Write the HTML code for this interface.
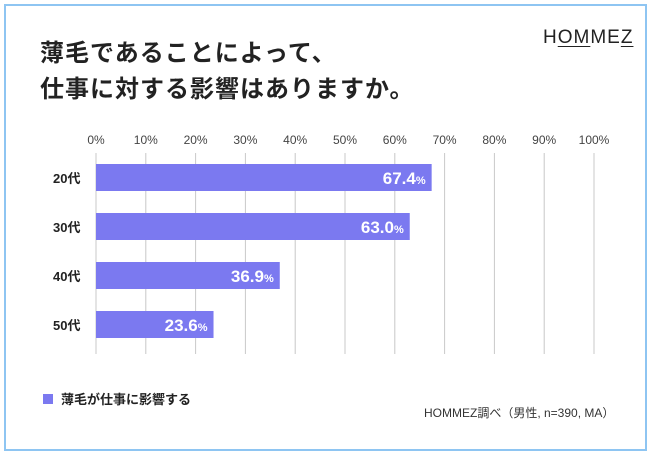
<!DOCTYPE html>
<html><head><meta charset="utf-8">
<style>
body{margin:0;width:650px;height:454px;background:#fff;font-family:"Liberation Sans","Noto Sans CJK JP",sans-serif;overflow:hidden;position:relative}
.frame{position:absolute;left:4px;top:4px;width:639px;height:443px;border:2px solid #8ec5f2}
.title{position:absolute;left:40px;top:36px;font-size:24px;font-weight:bold;color:#222;line-height:36px;letter-spacing:1px}
.logo{position:absolute;left:543px;top:27px;font-size:19px;color:#222;letter-spacing:1px}
.logo u{text-decoration:underline;text-underline-offset:3px}
</style></head><body>
<div class="frame"></div>
<div class="title">薄毛であることによって、<br>仕事に対する影響はありますか。</div>
<div class="logo">H<u>OM</u>ME<u>Z</u></div>
<svg id="chart" width="650" height="454" style="position:absolute;left:0;top:0"></svg>
<script>
const categories=["20代","30代","40代","50代"];
const values=[67.4,63.0,36.9,23.6];
const ticks=[0,10,20,30,40,50,60,70,80,90,100];
const NS="http://www.w3.org/2000/svg";
const svg=document.getElementById('chart');
const x=v=>96+v*4.98;
const y=i=>164+i*49;
function mk(t,a,txt){const e=document.createElementNS(NS,t);for(const k in a)e.setAttribute(k,a[k]);if(txt!=null)e.textContent=txt;svg.appendChild(e);return e;}
ticks.forEach(t=>{
 const l=mk('line',{x1:x(t),x2:x(t),y1:153,y2:354,stroke:'#c8c8c8','stroke-width':1});
 
 
 const tx=mk('text',{x:x(t),y:144,'text-anchor':'middle','font-size':12,fill:'#444'},t+'%');
 
 
});
categories.forEach((c,i)=>{
 const lb=mk('text',{x:53,y:y(i)+19,'font-size':13,'font-weight':'bold',fill:'#222'},c);
 
 
 const r=mk('rect',{x:x(0),y:y(i),width:x(values[i])-x(0),height:27,fill:'#7b79f0'});
 
 
 const v=mk('text',{x:x(values[i])-6,y:y(i)+20,'text-anchor':'end',fill:'#fff','font-weight':'bold','font-size':17});
 v.innerHTML=values[i].toFixed(1)+'<tspan font-size="11">%</tspan>';
 
 
});
const sq=mk('rect',{x:43,y:394,width:10,height:10,fill:'#7b79f0'});


const lt=mk('text',{x:61,y:404,'font-size':13,'font-weight':'bold',fill:'#222'},'薄毛が仕事に影響する');


const src=mk('text',{x:424,y:417,'font-size':12,fill:'#333'},'HOMMEZ調べ（男性, n=390, MA）');


</script>
</body></html>
